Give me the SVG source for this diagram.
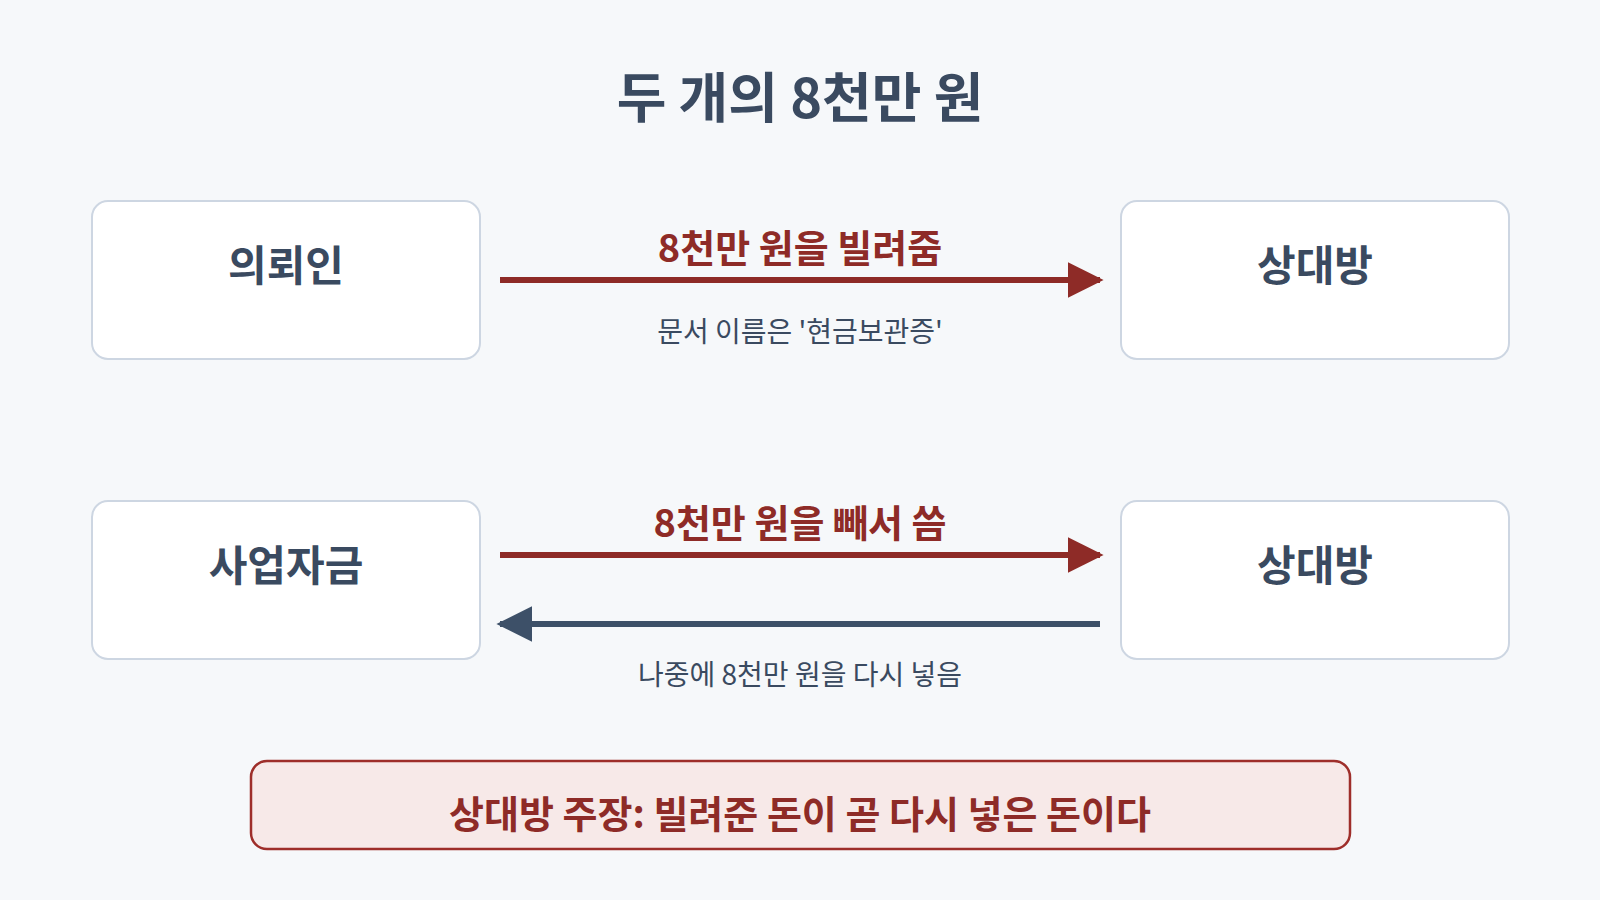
<svg xmlns="http://www.w3.org/2000/svg" width="1600" height="900" viewBox="0 0 1600 900">
<style>
text{font-family:"Noto Sans CJK KR","Noto Sans",sans-serif;text-anchor:middle;dominant-baseline:central}
.box{fill:#fff;stroke:#cdd6e2;stroke-width:2}
.nt{font-size:42px;font-weight:700;fill:#3a4a60}
.rl{font-size:38px;font-weight:700;fill:#8e2b27}
.sl{font-size:28px;fill:#3a4a60}
</style>
<defs>
<marker id="ar" viewBox="0 0 10 10" refX="9" refY="5" markerWidth="6" markerHeight="6" markerUnits="strokeWidth" orient="auto"><path d="M0 0L10 5L0 10z" fill="#8e2b27"/></marker>
<marker id="ab" viewBox="0 0 10 10" refX="9" refY="5" markerWidth="6" markerHeight="6" markerUnits="strokeWidth" orient="auto"><path d="M0 0L10 5L0 10z" fill="#3d5068"/></marker>
</defs>
<rect width="1600" height="900" fill="#f6f8fa"/>
<text x="800" y="94" font-size="54" font-weight="700" fill="#3a4a60">두 개의 8천만 원</text>
<g id="n1"><rect class="box" x="92" y="201" width="388" height="158" rx="16"/><text class="nt" x="286" y="262">의뢰인</text></g>
<g id="n2"><rect class="box" x="1121" y="201" width="388" height="158" rx="16"/><text class="nt" x="1315" y="262">상대방</text></g>
<g id="n3"><rect class="box" x="92" y="501" width="388" height="158" rx="16"/><text class="nt" x="286" y="562">사업자금</text></g>
<g id="n4"><rect class="box" x="1121" y="501" width="388" height="158" rx="16"/><text class="nt" x="1315" y="562">상대방</text></g>
<g id="connectors">
<line x1="500" y1="280" x2="1100" y2="280" stroke="#8e2b27" stroke-width="6" marker-end="url(#ar)"/>
<text class="rl" x="800" y="245">8천만 원을 빌려줌</text>
<text class="sl" x="800" y="330">문서 이름은 '현금보관증'</text>
<line x1="500" y1="555" x2="1100" y2="555" stroke="#8e2b27" stroke-width="6" marker-end="url(#ar)"/>
<text class="rl" x="800" y="520">8천만 원을 빼서 씀</text>
<line x1="1100" y1="624" x2="500" y2="624" stroke="#3d5068" stroke-width="6" marker-end="url(#ab)"/>
<text class="sl" x="800" y="673">나중에 8천만 원을 다시 넣음</text>
</g>
<g id="note"><rect x="251" y="761" width="1099" height="88" rx="16" fill="#f7e9e8" stroke="#9e2e2a" stroke-width="2.5"/>
<text class="rl" x="800" y="811">상대방 주장: 빌려준 돈이 곧 다시 넣은 돈이다</text></g>
</svg>
